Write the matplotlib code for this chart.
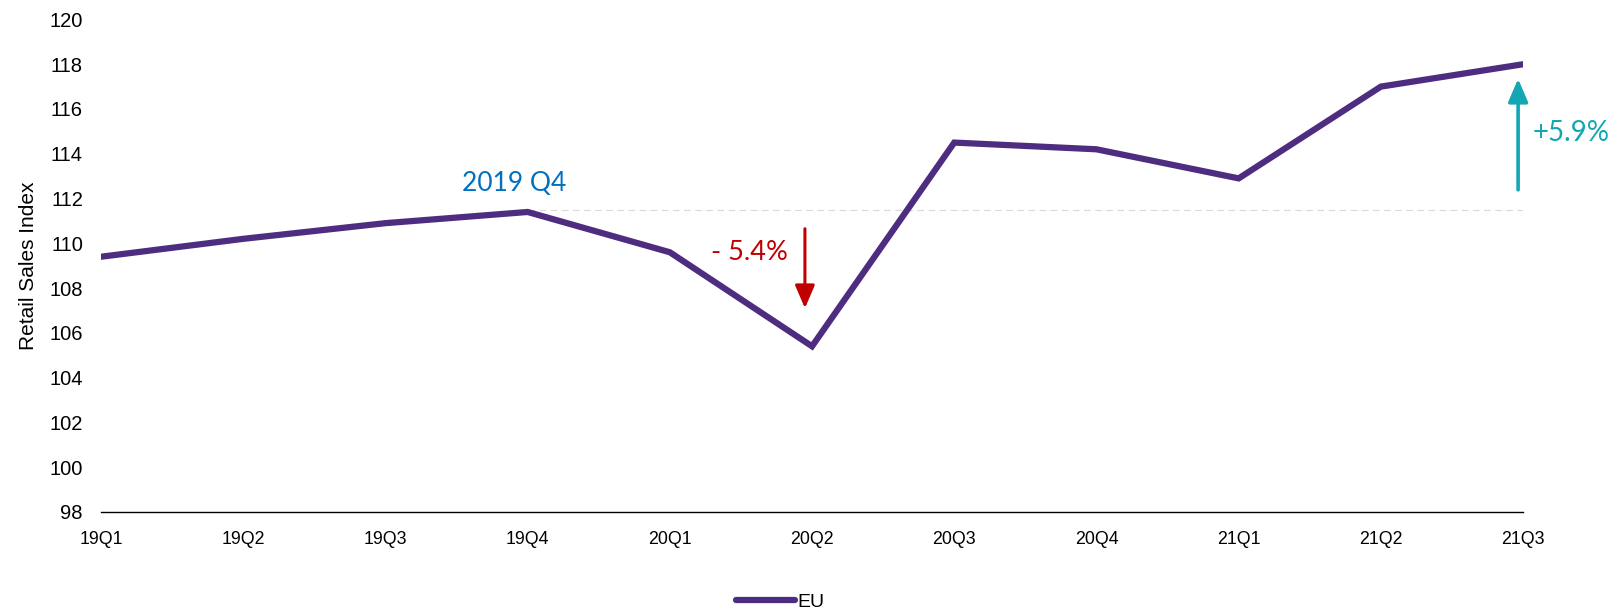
import matplotlib.pyplot as plt

quarters = ["19Q1", "19Q2", "19Q3", "19Q4", "20Q1", "20Q2",
            "20Q3", "20Q4", "21Q1", "21Q2", "21Q3"]
eu_index = [109.4, 110.2, 110.9, 111.4, 109.6, 105.4,
            114.5, 114.2, 112.9, 117.0, 118.0]
y_ticks = [98, 100, 102, 104, 106, 108, 110, 112, 114, 116, 118, 120]

baseline = 111.5          # 2019 Q4 reference level
drop_label = "- 5.4%"
rise_label = "+5.9%"

purple = "#4E2D80"
red = "#C00000"
teal = "#12A7B3"
blue = "#0070C0"
note_font = ["Lato", "DejaVu Sans"]

plt.rcParams["font.family"] = ["Liberation Sans", "DejaVu Sans"]

fig = plt.figure(figsize=(16.16, 6.08), dpi=100)
ax = fig.add_axes([0.0625, 0.158, 0.880, 0.81])

x = list(range(len(quarters)))
line, = ax.plot(x, eu_index, color=purple, linewidth=4.5,
                solid_capstyle="round", solid_joinstyle="miter", label="EU", zorder=3)

# dashed reference line from 19Q4 onwards
ax.plot([3, 10], [baseline, baseline], color="#D9D9D9", linewidth=0.8,
        linestyle=(0, (6, 4)), zorder=1)

ax.text(2.54, 112.65, "2019 Q4", color=blue, fontsize=19, family=note_font,
        va="center", ha="left")

# drop arrow
ax.annotate("", xy=(4.95, 107.1), xytext=(4.95, 110.65),
            arrowprops=dict(arrowstyle="-|>,head_length=0.7,head_width=0.3",
                            color=red, lw=2.2, mutation_scale=20, shrinkA=0, shrinkB=0))
ax.text(4.83, 109.6, drop_label, color=red, fontsize=19.5, family=note_font,
        va="center", ha="right")

# rise arrow
ax.annotate("", xy=(9.965, 117.35), xytext=(9.965, 112.39),
            arrowprops=dict(arrowstyle="-|>,head_length=0.7,head_width=0.3",
                            color=teal, lw=2.6, mutation_scale=20, shrinkA=0, shrinkB=0),
            annotation_clip=False)
ax.text(10.07, 114.93, rise_label, color=teal, fontsize=20, family=note_font,
        va="center", ha="left", clip_on=False)

ax.set_xlim(0, 10)
ax.set_ylim(98, 120)
ax.set_xticks(x)
ax.set_xticklabels(quarters)
ax.set_yticks(y_ticks)
ax.tick_params(axis="x", length=0, pad=14, labelsize=12.8)
ax.tick_params(axis="y", length=0, pad=13, labelsize=14.5)
ax.set_ylabel("Retail Sales Index", fontsize=15)
ax.yaxis.set_label_coords(-0.0445, 0.5)

for side in ["top", "right", "left"]:
    ax.spines[side].set_visible(False)
ax.spines["bottom"].set_linewidth(1.0)
ax.spines["bottom"].set_color("black")

fig.legend(handles=[line], loc="center", bbox_to_anchor=(0.483, 0.01),
           frameon=False, fontsize=14, handlelength=3.0, handletextpad=0.15)

fig.savefig("out.png", dpi=100)
